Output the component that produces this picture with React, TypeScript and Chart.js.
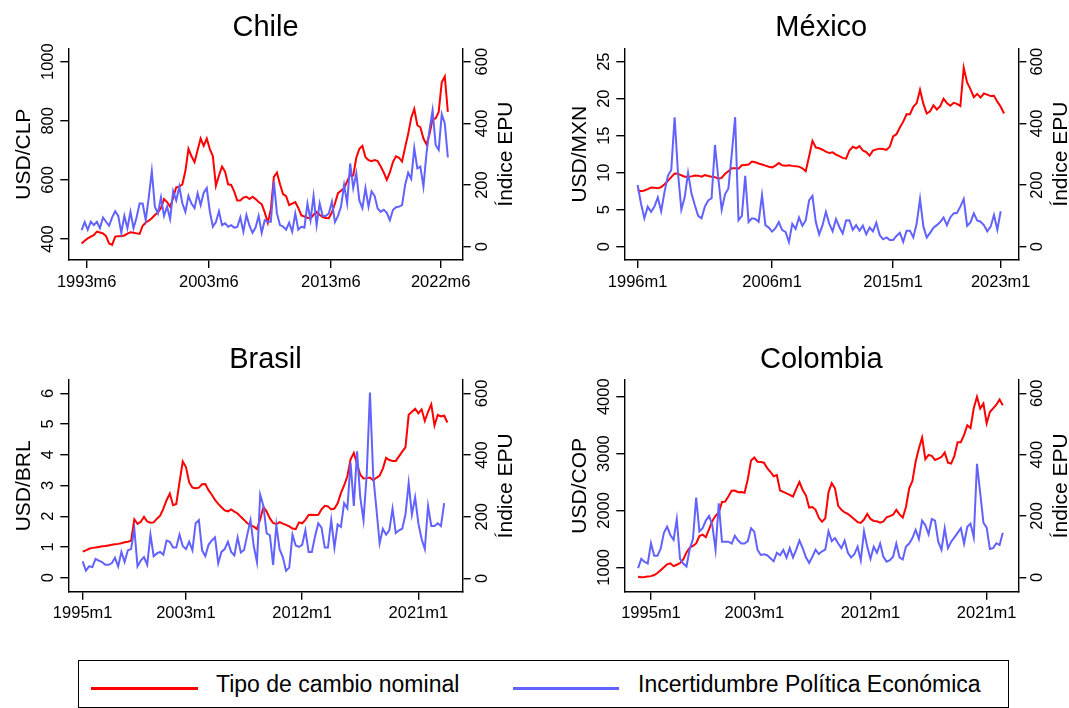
import React, { useEffect, useRef } from "react";
import { Chart, registerables } from "chart.js";

Chart.register(...registerables);

const FONT = '"Liberation Sans", Arial, Helvetica, sans-serif';
const RED = "#FF0000";
const BLUE = "#6262FF";
const AXIS = "#000000";

// Monthly readings taken every `sampleStep` months from each start month.
const sampleStep = 3;

const chileStart = "1993m1";
const mexicoStart = "1996m1";
const brasilStart = "1995m1";
const colombiaStart = "1994m1";

const chileFX = [
  385, 394, 402, 408, 413, 425, 422, 419, 410, 385,
  380, 408, 409, 410, 412, 418, 423, 421, 419, 417,
  445, 456, 462, 470, 481, 490, 505, 535, 525, 509,
  540, 575, 577, 585, 630, 705, 680, 660, 700, 740,
  715, 740, 705, 680, 580, 615, 645, 628, 585, 583,
  560, 530, 530, 540, 543, 535, 543, 535, 525, 518,
  490, 455, 500, 610, 625, 585, 552, 545, 515, 520,
  525, 505, 480, 476, 472, 470, 482, 492, 482, 474,
  471, 470, 490, 520, 555, 563, 572, 595, 617, 615,
  675, 705, 715, 677, 667, 663, 667, 664, 645, 625,
  600, 625, 660, 680, 675, 662, 710, 755, 810, 840,
  785, 778, 740, 720, 755, 805, 808, 830, 930, 950,
  830,
];
const chileEPU = [
  54, 80, 55, 81, 70, 81, 60, 95, 81, 68,
  95, 115, 100, 45, 100, 60, 113, 60, 95, 140,
  140, 86, 160, 245, 130, 108, 160, 100, 130, 90,
  180, 150, 195, 141, 113, 165, 140, 125, 173, 135,
  175, 190, 115, 65, 80, 115, 70, 76, 65, 70,
  62, 64, 95, 49, 103, 68, 45, 62, 100, 45,
  86, 81, 81, 211, 108, 70, 65, 55, 78, 49,
  108, 55, 65, 62, 140, 86, 165, 70, 141, 100,
  100, 108, 146, 80, 100, 130, 200, 141, 270, 190,
  238, 150, 125, 190, 130, 180, 165, 124, 113, 120,
  110, 86, 119, 128, 130, 135, 200, 240, 220, 320,
  254, 260, 195, 303, 380, 443, 330, 314, 430, 400,
  290,
];

const mexicoFX = [
  7.66, 7.5, 7.6, 7.78, 8.0, 7.95, 7.9, 8.05, 8.45, 8.9,
  9.4, 9.9, 9.87, 9.65, 9.46, 9.46, 9.5, 9.62, 9.6, 9.45,
  9.67, 9.55, 9.45, 9.4, 9.2, 9.3, 9.85, 10.2, 10.6, 10.6,
  10.55, 11.0, 11.05, 11.1, 11.5, 11.4, 11.25, 11.1, 10.95, 10.8,
  10.72, 10.95, 11.3, 11.0, 10.95, 11.0, 10.92, 10.87, 10.82, 10.6,
  10.2, 12.2, 14.3, 13.4, 13.3, 13.1, 12.85, 12.65, 12.75, 12.45,
  12.25, 12.0, 11.9, 13.0, 13.5, 13.3, 13.6, 13.0, 12.8, 12.3,
  13.0, 13.15, 13.25, 13.2, 13.07, 13.5, 14.9, 15.2, 16.1, 16.9,
  17.9, 17.9, 18.9, 19.4, 21.2, 19.3, 18.0, 18.3, 19.1, 18.55,
  19.0, 20.0, 19.4, 19.05, 19.45, 19.3, 19.0, 24.2, 22.2, 21.3,
  20.2, 20.65, 20.15, 20.7, 20.55, 20.35, 20.4, 19.6, 18.9, 18.0,
];
const mexicoEPU = [
  200, 140, 92, 130, 113, 130, 160, 115, 178, 230,
  249, 420, 240, 120, 160, 240, 173, 135, 100, 92,
  130, 150, 157, 330, 222, 120, 170, 189, 300, 420,
  86, 100, 230, 80, 92, 90, 81, 168, 70, 62,
  49, 60, 80, 54, 48, 15, 74, 58, 95, 68,
  85, 150, 165, 80, 40, 70, 113, 75, 50, 90,
  64, 43, 85, 86, 55, 70, 52, 68, 40, 62,
  50, 78, 38, 24, 30, 22, 22, 35, 45, 16,
  52, 52, 30, 75, 155, 65, 30, 45, 62, 70,
  80, 95, 70, 95, 108, 110, 130, 155, 68, 79,
  108, 85, 81, 70, 50, 65, 103, 55, 115, null,
];

const brasilFX = [
  0.85, 0.89, 0.94, 0.97, 0.98, 1.0, 1.02, 1.03, 1.05, 1.07,
  1.09, 1.1, 1.12, 1.15, 1.17, 1.2, 1.9, 1.75, 1.82, 1.98,
  1.83, 1.79, 1.8, 1.92, 2.02, 2.25, 2.52, 2.74, 2.36, 2.4,
  3.1, 3.78, 3.6, 3.1, 2.93, 2.91, 2.93, 3.04, 3.05, 2.85,
  2.7, 2.53, 2.4, 2.29, 2.19, 2.16, 2.22, 2.15, 2.09, 1.98,
  1.88, 1.77, 1.71, 1.66, 1.58, 1.9, 2.3, 2.15, 1.93, 1.78,
  1.74, 1.81, 1.76, 1.72, 1.67, 1.6, 1.58, 1.8, 1.77, 1.88,
  2.04, 2.05, 2.04, 2.05, 2.22, 2.34, 2.32, 2.22, 2.25, 2.42,
  2.75, 3.0, 3.3, 3.85, 4.06, 3.7, 3.35, 3.23, 3.24, 3.26,
  3.17, 3.25, 3.32, 3.55, 3.9, 3.83, 3.8, 3.8, 3.95, 4.1,
  4.24, 5.3, 5.4, 5.5, 5.35, 5.48, 5.1, 5.4, 5.64, 4.95,
  5.3, 5.25, 5.27, 5.05,
];
const brasilEPU = [
  55, 25, 39, 37, 63, 58, 53, 44, 44, 49,
  67, 39, 86, 53, 91, 95, 161, 39, 58, 69,
  44, 142, 72, 81, 86, 77, 123, 119, 100, 100,
  142, 105, 95, 119, 91, 179, 189, 91, 72, 109,
  123, 133, 49, 86, 95, 119, 86, 75, 133, 84,
  92, 142, 189, 105, 53, 272, 235, 146, 140, 44,
  173, 95, 69, 25, 35, 142, 107, 102, 109, 156,
  86, 86, 137, 179, 165, 100, 100, 189, 100, 175,
  167, 244, 227, 375, 235, 412, 263, 189, 338, 603,
  335, 226, 114, 161, 142, 156, 226, 147, 156, 161,
  207, 310, 207, 263, 179, 128, 95, 235, 170, 170,
  179, 170, 244, null,
];

const colombiaFX = [
  835, 826, 830, 837, 845, 865, 900, 950, 1000, 1053,
  1070, 1020, 1045, 1075, 1140, 1260, 1345, 1375, 1420, 1550,
  1575, 1530, 1670, 1815, 1905, 1965, 2150, 2155, 2250, 2345,
  2350, 2320, 2325, 2310, 2550, 2880, 2930, 2857, 2850, 2840,
  2745, 2680, 2600, 2620, 2350, 2325, 2300, 2275, 2245, 2380,
  2500, 2360, 2265, 2050, 2060, 2010, 1870, 1800, 1860, 2320,
  2480, 2390, 2080, 2010, 1965, 1940, 1895, 1845, 1795, 1780,
  1840, 1940, 1850, 1815, 1810, 1785, 1805, 1880, 1900, 1925,
  2010, 1930, 1875, 2060, 2389, 2520, 2860, 3090, 3280, 2900,
  2975, 2960, 2887, 2910, 2940, 3020, 2840, 2825, 2960, 3200,
  3200, 3330, 3500, 3450, 3796, 4000, 3790, 3880, 3530, 3730,
  3796, 3860, 3950, 3850,
];
const colombiaEPU = [
  30, 60, 50, 45, 111, 70, 70, 93, 145, 165,
  138, 122, 190, 60, 45, 35, 92, 125, 260, 150,
  160, 185, 200, 170, 90, 241, 116, 116, 116, 110,
  135, 120, 110, 110, 118, 160, 149, 90, 73, 75,
  72, 62, 52, 80, 72, 89, 64, 95, 65, 90,
  120, 95, 65, 47, 67, 90, 76, 85, 90, 150,
  118, 128, 110, 95, 120, 80, 65, 75, 100, 55,
  150, 100, 60, 100, 80, 110, 67, 51, 56, 67,
  110, 65, 58, 100, 110, 128, 155, 125, 185, 170,
  140, 190, 185, 116, 90, 160, 95, 116, 130, 145,
  160, 110, 165, 175, 130, 370, 275, 178, 162, 92,
  95, 111, 105, 145,
];

const chileXTicks = ["1993m6", "2003m6", "2013m6", "2022m6"];
const mexicoXTicks = ["1996m1", "2006m1", "2015m1", "2023m1"];
const brasilXTicks = ["1995m1", "2003m1", "2012m1", "2021m1"];
const colombiaXTicks = ["1995m1", "2003m1", "2012m1", "2021m1"];

const chileFXTicks = [400, 600, 800, 1000];
const mexicoFXTicks = [0, 5, 10, 15, 20, 25];
const brasilFXTicks = [0, 1, 2, 3, 4, 5, 6];
const colombiaFXTicks = [1000, 2000, 3000, 4000];
const epuTicks = [0, 200, 400, 600];

const legendLabels = ["Tipo de cambio nominal", "Incertidumbre Política Económica"];
const epuAxisTitle = "Índice EPU";

function monthIndex(label: string): number {
  const [y, m] = label.split("m").map(Number);
  return (y - 1990) * 12 + (m - 1);
}

function seriesPoints(start: string, values: (number | null)[]) {
  const s = monthIndex(start);
  return values.map((v, i) => ({ x: s + i * sampleStep, y: v }));
}

type Area = { left: number; right: number; top: number; bottom: number };
type Spec = {
  title: string;
  fxLabel: string;
  start: string;
  fx: (number | null)[];
  epu: (number | null)[];
  xTicks: string[];
  fxTicks: number[];
  xRange: [number, number];
  fxRange: [number, number];
  epuRange: [number, number];
  left: number;
  top: number;
  width: number;
  height: number;
  area: Area;
};

const XH = 40;

function Panel({ spec }: { spec: Spec }) {
  const ref = useRef<HTMLCanvasElement | null>(null);
  useEffect(() => {
    const canvas = ref.current;
    if (!canvas) return;
    const a = spec.area;
    const tickFont = `16.5px ${FONT}`;
    const labFont = `21px ${FONT}`;
    const textPlugin = {
      id: "rText",
      afterDraw(chart: any) {
        const { ctx, chartArea: ca, scales } = chart;
        ctx.save();
        ctx.fillStyle = "#000";
        ctx.textBaseline = "alphabetic";
        ctx.textAlign = "center";
        ctx.font = `29px ${FONT}`;
        ctx.fillText(spec.title, (ca.left + ca.right) / 2, ca.top - 12);
        ctx.font = tickFont;
        spec.xTicks.forEach((lab) => {
          ctx.fillText(lab, scales.x.getPixelForValue(monthIndex(lab)), ca.bottom + 26.7);
        });
        const rot = (text: string, x: number, y: number, font: string) => {
          ctx.save();
          ctx.font = font;
          ctx.translate(x, y);
          ctx.rotate(-Math.PI / 2);
          ctx.fillText(text, 0, 0);
          ctx.restore();
        };
        spec.fxTicks.forEach((v) => rot(String(v), ca.left - 15, scales.y.getPixelForValue(v), tickFont));
        epuTicks.forEach((v) => rot(String(v), ca.right + 24, scales.y1.getPixelForValue(v), tickFont));
        const midY = (ca.top + ca.bottom) / 2;
        rot(spec.fxLabel, ca.left - 38.8, midY, labFont);
        rot(epuAxisTitle, ca.right + 49, midY, labFont);
        ctx.restore();
      },
    };
    const axisCommon = {
      bounds: "data",
      ticks: { display: false },
      grid: { drawOnChartArea: false, drawTicks: true, tickLength: 8, color: AXIS, lineWidth: 1.4 },
      border: { display: true, color: AXIS, width: 1.4 },
    };
    const chart = new Chart(canvas, {
      type: "line",
      data: {
        datasets: [
          {
            label: legendLabels[1],
            data: seriesPoints(spec.start, spec.epu),
            yAxisID: "y1",
            borderColor: BLUE,
            borderWidth: 2,
            pointRadius: 0,
            tension: 0,
            order: 0,
          },
          {
            label: legendLabels[0],
            data: seriesPoints(spec.start, spec.fx),
            yAxisID: "y",
            borderColor: RED,
            borderWidth: 2,
            pointRadius: 0,
            tension: 0,
            order: 1,
          },
        ],
      },
      options: {
        responsive: false,
        animation: false,
        events: [],
        layout: { padding: { left: 0, right: 0, top: a.top, bottom: spec.height - a.bottom - XH } },
        plugins: { legend: { display: false }, tooltip: { enabled: false }, title: { display: false } },
        scales: {
          x: {
            ...axisCommon,
            type: "linear",
            position: "bottom",
            min: spec.xRange[0],
            max: spec.xRange[1],
            afterBuildTicks: (s: any) => {
              s.ticks = spec.xTicks.map((l) => ({ value: monthIndex(l) }));
            },
            afterFit: (s: any) => {
              s.height = XH;
            },
          },
          y: {
            ...axisCommon,
            type: "linear",
            position: "left",
            min: spec.fxRange[0],
            max: spec.fxRange[1],
            afterBuildTicks: (s: any) => {
              s.ticks = spec.fxTicks.map((v) => ({ value: v }));
            },
            afterFit: (s: any) => {
              s.width = a.left;
            },
          },
          y1: {
            ...axisCommon,
            type: "linear",
            position: "right",
            min: spec.epuRange[0],
            max: spec.epuRange[1],
            afterBuildTicks: (s: any) => {
              s.ticks = epuTicks.map((v) => ({ value: v }));
            },
            afterFit: (s: any) => {
              s.width = spec.width - a.right;
            },
          },
        },
      } as any,
      plugins: [textPlugin],
    });
    return () => chart.destroy();
  }, [spec]);
  return (
    <canvas
      ref={ref}
      width={spec.width}
      height={spec.height}
      style={{ position: "absolute", left: spec.left, top: spec.top, width: spec.width, height: spec.height }}
    />
  );
}

const specs: Spec[] = [
  {
    title: "Chile", fxLabel: "USD/CLP", start: chileStart, fx: chileFX, epu: chileEPU,
    xTicks: chileXTicks, fxTicks: chileFXTicks,
    xRange: [22.9, 410.6], fxRange: [328.9, 1045.3], epuRange: [-43.1, 643.5],
    left: 0, top: 0, width: 534, height: 332,
    area: { left: 68.3, right: 462.7, top: 48.3, bottom: 260 },
  },
  {
    title: "México", fxLabel: "USD/MXN", start: mexicoStart, fx: mexicoFX, epu: mexicoEPU,
    xTicks: mexicoXTicks, fxTicks: mexicoFXTicks,
    xRange: [60.1, 411.7], fxRange: [-1.8, 26.81], epuRange: [-43.1, 643.5],
    left: 534, top: 0, width: 535, height: 332,
    area: { left: 90.3, right: 484.3, top: 48.3, bottom: 260 },
  },
  {
    title: "Brasil", fxLabel: "USD/BRL", start: brasilStart, fx: brasilFX, epu: brasilEPU,
    xTicks: brasilXTicks, fxTicks: brasilFXTicks,
    xRange: [46.65, 413.2], fxRange: [-0.456, 6.433], epuRange: [-43.1, 643.5],
    left: 0, top: 332, width: 534, height: 328,
    area: { left: 68.3, right: 462.7, top: 48, bottom: 259.7 },
  },
  {
    title: "Colombia", fxLabel: "USD/COP", start: colombiaStart, fx: colombiaFX, epu: colombiaEPU,
    xTicks: colombiaXTicks, fxTicks: colombiaFXTicks,
    xRange: [35.2, 401.4], fxRange: [571, 4293.7], epuRange: [-47, 643.4],
    left: 534, top: 332, width: 535, height: 328,
    area: { left: 90.3, right: 484.3, top: 48, bottom: 259.7 },
  },
];

function Legend() {
  const text: React.CSSProperties = {
    position: "absolute",
    top: 0,
    height: "100%",
    display: "flex",
    alignItems: "center",
    font: `23px ${FONT}`,
    color: "#000",
    whiteSpace: "nowrap",
  };
  return (
    <div
      style={{
        position: "absolute",
        left: 78,
        top: 660,
        width: 931,
        height: 48,
        border: "1.4px solid #000",
        boxSizing: "border-box",
        background: "#fff",
      }}
    >
      <div style={{ position: "absolute", left: 12, top: 26, width: 107, height: 2.5, background: RED }} />
      <div style={{ ...text, left: 137 }}>{legendLabels[0]}</div>
      <div style={{ position: "absolute", left: 434, top: 26, width: 106, height: 2.5, background: BLUE }} />
      <div style={{ ...text, left: 559 }}>{legendLabels[1]}</div>
    </div>
  );
}

export default function App() {
  return (
    <div style={{ position: "absolute", left: 0, top: 0, width: 1069, height: 708, background: "#fff", overflow: "hidden" }}>
      {specs.map((s) => (
        <Panel key={s.title} spec={s} />
      ))}
      <Legend />
    </div>
  );
}
